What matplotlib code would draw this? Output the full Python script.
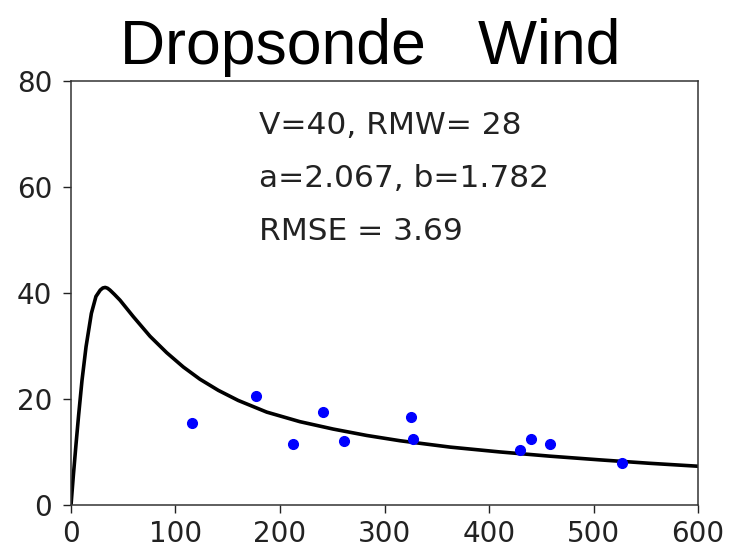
import matplotlib
matplotlib.use('Agg')
import matplotlib.pyplot as plt

# fitted profile (radius, wind speed)
curve_r = [0, 2.2, 4.8, 7.3, 10.5, 14.4, 19.5, 23.9, 28, 30.5, 32.8, 35, 37.3,
           41.5, 46.9, 59.6, 75.6, 91.6, 107.5, 123.4, 141, 160, 187.3, 219,
           251, 283, 315, 363, 410, 458, 506, 554, 600]
curve_v = [0, 5.5, 11.5, 17.0, 23.5, 29.9, 36.2, 39.4, 40.6, 41.0, 41.1, 40.95, 40.6,
           39.8, 38.7, 35.6, 31.9, 28.8, 26.1, 23.8, 21.7, 19.8, 17.6, 15.8,
           14.4, 13.2, 12.2, 11.0, 10.1, 9.3, 8.6, 7.95, 7.4]

# dropsonde observations
obs_r = [115.5, 176.7, 212.5, 240.9, 261.3, 325.0, 327.6, 429.8, 440.1, 458.2, 527.0]
obs_v = [15.5, 20.6, 11.6, 17.6, 12.1, 16.6, 12.5, 10.5, 12.5, 11.6, 8.0]

labels = ['V=40, RMW= 28', 'a=2.067, b=1.782', 'RMSE = 3.69']
label_y = [70, 60, 50]

fig = plt.figure(figsize=(7.31, 5.55), dpi=100)
ax = fig.add_axes([0.0971, 0.0892, 0.8578, 0.7648])

ax.plot(curve_r, curve_v, color='black', linewidth=2.6,
        solid_joinstyle='round', solid_capstyle='round')
ax.plot(obs_r, obs_v, 'o', color='blue', markersize=7)

for txt, yy in zip(labels, label_y):
    ax.text(180, yy, txt, fontsize=22.5, va='baseline', ha='left', color='#222222')

ax.set_xlim(0, 600)
ax.set_ylim(0, 80)
ax.set_xticks([0, 100, 200, 300, 400, 500, 600])
ax.set_yticks([0, 20, 40, 60, 80])
ax.tick_params(axis='both', labelsize=20, length=5.5, width=1.0, colors='#222222')
ax.tick_params(axis='y', pad=8)
ax.tick_params(axis='x', pad=5)
for sp in ax.spines.values():
    sp.set_linewidth(1.1)
    sp.set_color('#333333')

fig.text(0.506, 0.8847, 'Dropsonde   Wind', fontsize=45, family='Liberation Sans',
         ha='center', va='baseline')

fig.savefig('out.png', dpi=100)
